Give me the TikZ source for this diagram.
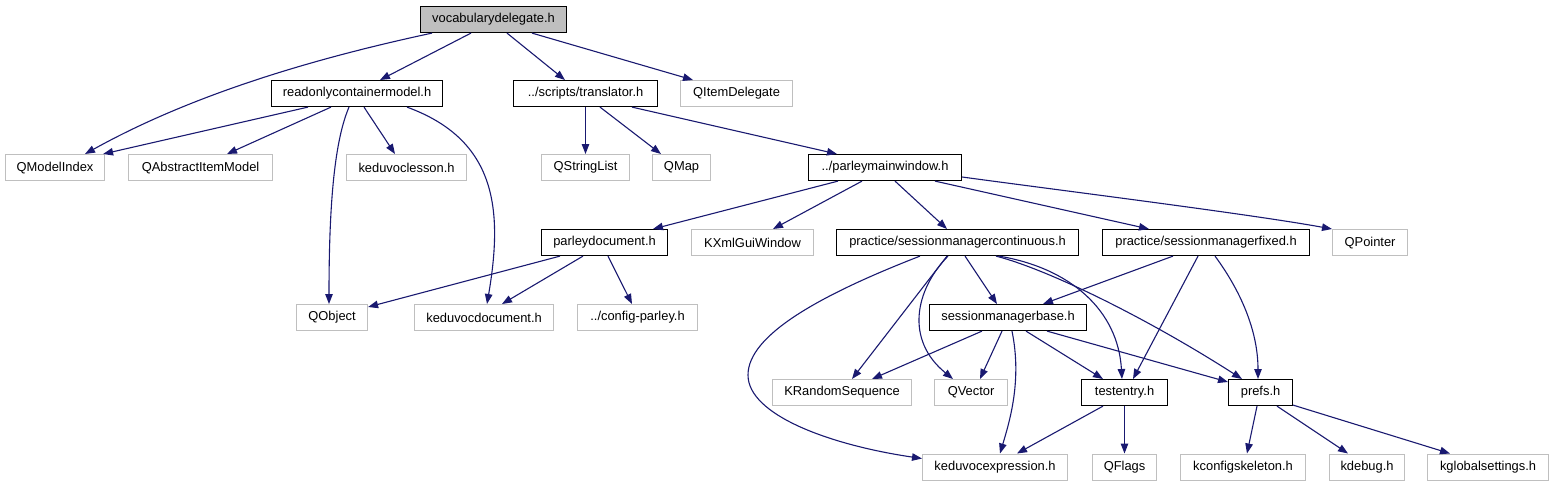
\documentclass[tikz,border=0pt]{standalone}
\usepackage{fontspec}
\setmainfont{Liberation Sans}
\usetikzlibrary{arrows.meta}
\definecolor{edgeblue}{HTML}{191970}
\definecolor{extgray}{HTML}{BFBFBF}
\definecolor{rootgray}{HTML}{BFBFBF}
\tikzset{
  base/.style={anchor=north west, inner sep=0pt, minimum height=26pt, line width=1.1pt,
    font=\fontsize{12.9}{15}\selectfont, text=black},
  inc/.style={base, draw=black, fill=white},
  ext/.style={base, draw=extgray, fill=white},
  root/.style={base, draw=black, fill=rootgray},
  e/.style={draw=edgeblue, line width=1.1pt, -{Triangle[length=10pt,width=7.5pt]}, fill=none}
}
\begin{document}
\begin{tikzpicture}[x=1pt,y=-1pt]
\useasboundingbox (0,0) rectangle (1553,485);
% row 1
\node[root, minimum width=146pt] (voc) at (420,6) {vocabularydelegate.h};
% row 2
\node[inc, minimum width=171pt] (roc) at (271,80) {readonlycontainermodel.h};
\node[inc, minimum width=144pt] (tr) at (513,80) {../scripts/translator.h};
\node[ext, minimum width=112pt] (qid) at (680,80) {QItemDelegate};
% row 3
\node[ext, minimum width=99pt] (qmi) at (5,154) {QModelIndex};
\node[ext, minimum width=144pt] (qaim) at (128,154) {QAbstractItemModel};
\node[ext, minimum width=120pt] (kvl) at (346,154) {keduvoclesson.h};
\node[ext, minimum width=88pt] (qsl) at (541,154) {QStringList};
\node[ext, minimum width=58pt] (qmap) at (652,154) {QMap};
\node[inc, minimum width=153pt] (pmw) at (808,154) {../parleymainwindow.h};
% row 4
\node[inc, minimum width=126pt] (pd) at (541,229) {parleydocument.h};
\node[ext, minimum width=122pt] (kxml) at (691,229) {KXmlGuiWindow};
\node[inc, minimum width=242pt] (smc) at (836,229) {practice/sessionmanagercontinuous.h};
\node[inc, minimum width=207pt] (smf) at (1102,229) {practice/sessionmanagerfixed.h};
\node[ext, minimum width=75pt] (qptr) at (1332,229) {QPointer};
% row 5
\node[ext, minimum width=71pt] (qobj) at (296,304) {QObject};
\node[ext, minimum width=139pt] (kvd) at (414,304) {keduvocdocument.h};
\node[ext, minimum width=120pt] (cp) at (577,304) {../config-parley.h};
\node[inc, minimum width=157pt] (smb) at (929,304) {sessionmanagerbase.h};
% row 6
\node[ext, minimum width=139pt] (krs) at (772,379) {KRandomSequence};
\node[ext, minimum width=73pt] (qvec) at (934,379) {QVector};
\node[inc, minimum width=86pt] (te) at (1081,379) {testentry.h};
\node[inc, minimum width=64pt] (prefs) at (1228,379) {prefs.h};
% row 7
\node[ext, minimum width=145pt] (kve) at (922,453.5) {keduvocexpression.h};
\node[ext, minimum width=64pt] (qflags) at (1092,453.5) {QFlags};
\node[ext, minimum width=125pt] (kcs) at (1180,453.5) {kconfigskeleton.h};
\node[ext, minimum width=75pt] (kdbg) at (1329,453.5) {kdebug.h};
\node[ext, minimum width=121pt] (kgs) at (1427,453.5) {kglobalsettings.h};

% edges from vocabularydelegate.h
\draw[e] ([xshift=12pt]voc.south west) .. controls (330,55) and (200,90) .. ([xshift=80pt]qmi.north west);
\draw[e] ([xshift=51pt]voc.south west) -- ([xshift=109pt]roc.north west);
\draw[e] ([xshift=87pt]voc.south west) -- ([xshift=52pt]tr.north west);
\draw[e] ([xshift=112pt]voc.south west) -- ([xshift=13pt]qid.north west);
% readonlycontainermodel.h
\draw[e] ([xshift=37pt]roc.south west) -- ([xshift=-2pt]qmi.north east);
\draw[e] ([xshift=60pt]roc.south west) -- ([xshift=99pt]qaim.north west);
\draw[e] ([xshift=93pt]roc.south west) -- ([xshift=49pt]kvl.north west);
\draw[e] ([xshift=78pt]roc.south west) .. controls (335,140) and (329,200) .. ([xshift=33pt]qobj.north west);
\draw[e] ([xshift=136pt]roc.south west) .. controls (497,140) and (503,210) .. ([xshift=73pt]kvd.north west);
% translator.h
\draw[e] ([xshift=72.5pt]tr.south west) -- ([xshift=44.5pt]qsl.north west);
\draw[e] ([xshift=87pt]tr.south west) -- ([xshift=9pt]qmap.north west);
\draw[e] ([xshift=119pt]tr.south west) -- ([xshift=29pt]pmw.north west);
% parleymainwindow.h
\draw[e] ([xshift=30pt]pmw.south west) -- ([xshift=112pt]pd.north west);
\draw[e] ([xshift=54pt]pmw.south west) -- ([xshift=82pt]kxml.north west);
\draw[e] ([xshift=87pt]pmw.south west) -- ([xshift=111pt]smc.north west);
\draw[e] ([xshift=127pt]pmw.south west) -- ([xshift=47pt]smf.north west);
\draw[e] ([yshift=-23pt]pmw.north east) .. controls (1050,189) and (1250,214) .. (qptr.north west);
% parleydocument.h
\draw[e] ([xshift=19pt]pd.south west) -- ([yshift=-3pt]qobj.north east);
\draw[e] ([xshift=42pt]pd.south west) -- ([xshift=88pt]kvd.north west);
\draw[e] ([xshift=67pt]pd.south west) -- ([xshift=55pt]cp.north west);
% sessionmanagercontinuous.h
\draw[e] ([xshift=84pt]smc.south west) .. controls (820,295) and (748,335) .. (748,375)
  .. controls (748,415) and (830,445) .. ([yshift=-5pt]kve.north west);
\draw[e] ([xshift=111pt]smc.south west) -- ([xshift=80pt]krs.north west);
\draw[e] ([xshift=112pt]smc.south west) .. controls (915,290) and (905,340) .. ([xshift=19pt]qvec.north west);
\draw[e] ([xshift=129pt]smc.south west) -- ([xshift=68pt]smb.north west);
\draw[e] ([xshift=163pt]smc.south west) .. controls (1070,268) and (1118,310) .. ([xshift=41pt]te.north west);
\draw[e] ([xshift=160pt]smc.south west) .. controls (1050,270) and (1150,320) .. ([xshift=14pt]prefs.north west);
% sessionmanagerfixed.h
\draw[e] ([xshift=71pt]smf.south west) -- ([xshift=114pt]smb.north west);
\draw[e] ([xshift=96pt]smf.south west) -- ([xshift=52pt]te.north west);
\draw[e] ([xshift=113pt]smf.south west) .. controls (1240,290) and (1258,330) .. ([xshift=30pt]prefs.north west);
% sessionmanagerbase.h
\draw[e] ([xshift=53pt]smb.south west) -- ([xshift=100pt]krs.north west);
\draw[e] ([xshift=73pt]smb.south west) -- ([xshift=46pt]qvec.north west);
\draw[e] ([xshift=83pt]smb.south west) .. controls (1022,380) and (1010,420) .. ([xshift=78pt]kve.north west);
\draw[e] ([xshift=97pt]smb.south west) -- ([xshift=22pt]te.north west);
\draw[e] ([xshift=118pt]smb.south west) -- ([yshift=-3pt]prefs.north west);
% testentry.h
\draw[e] ([xshift=22pt]te.south west) -- ([xshift=95pt]kve.north west);
\draw[e] ([xshift=43.5pt]te.south west) -- ([xshift=32.5pt]qflags.north west);
% prefs.h
\draw[e] ([xshift=29pt]prefs.south west) -- ([xshift=67pt]kcs.north west);
\draw[e] ([xshift=49pt]prefs.south west) -- ([xshift=19pt]kdbg.north west);
\draw[e] ([yshift=1pt]prefs.south east) -- ([xshift=23pt]kgs.north west);
\end{tikzpicture}
\end{document}
